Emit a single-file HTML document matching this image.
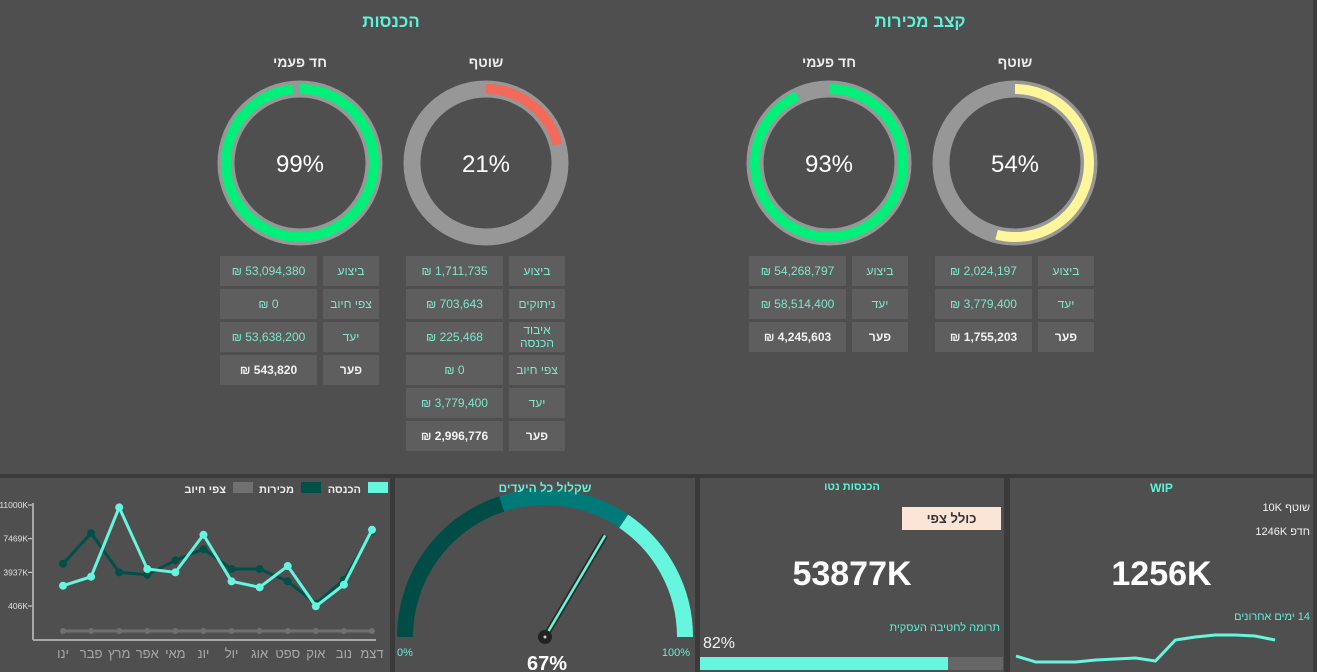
<!DOCTYPE html>
<html><head><meta charset="utf-8">
<style>
*{margin:0;padding:0;box-sizing:border-box}
body{width:1317px;height:672px;background:#4f4f4f;font-family:"Liberation Sans","DejaVu Sans",sans-serif;position:relative;overflow:hidden}
.abs{position:absolute}
.cell{position:absolute;background:#5e5e5e;height:30px;display:flex;align-items:center;justify-content:center;font-size:12px;color:#7fe6d2;text-align:center;line-height:13px;direction:rtl}
.cell.b{font-weight:bold;color:#f2f2f2}
.t{position:absolute;white-space:nowrap}
</style></head><body>
<div class="abs" style="left:1313px;top:0;width:4px;height:672px;background:#3c3c3c"></div>
<div class="abs" style="left:0;top:474px;width:1317px;height:4px;background:#3a3a3a"></div>
<div class="abs" style="left:390px;top:478px;width:5px;height:194px;background:#3a3a3a"></div>
<div class="abs" style="left:695px;top:478px;width:5px;height:194px;background:#3a3a3a"></div>
<div class="abs" style="left:1004px;top:478px;width:6px;height:194px;background:#3a3a3a"></div>

<svg class="abs" style="left:0;top:0" width="1317" height="672" id="main">
<text x="391" y="27" text-anchor="middle" fill="#5ff2da" font-size="17" font-weight="bold">הכנסות</text>
<text x="920" y="27" text-anchor="middle" fill="#5ff2da" font-size="17" font-weight="bold">קצב מכירות</text>
<text x="300" y="67" text-anchor="middle" fill="#ececec" font-size="14" font-weight="bold">חד פעמי</text>
<text x="486" y="67" text-anchor="middle" fill="#ececec" font-size="14" font-weight="bold">שוטף</text>
<text x="829" y="67" text-anchor="middle" fill="#ececec" font-size="14" font-weight="bold">חד פעמי</text>
<text x="1015" y="67" text-anchor="middle" fill="#ececec" font-size="14" font-weight="bold">שוטף</text>
<g id="donuts"></g>
<g id="linechart"></g>
<g id="gauge"></g>
<g id="spark"></g>
</svg>

<div id="tables"></div>

<div class="t" style="left:700px;width:304px;top:481px;text-align:center;color:#5ff2da;font-size:11px;font-weight:bold">הכנסות נטו</div>
<div class="abs" style="left:902px;top:507px;width:99px;height:23px;background:#fbe5d6;color:#333;font-size:13px;font-weight:bold;display:flex;align-items:center;justify-content:center">כולל צפי</div>
<div class="t" style="left:700px;width:304px;top:555px;text-align:center;color:#fff;font-size:34px;font-weight:bold">53877K</div>
<div class="t" style="right:317px;top:622px;color:#5ff2da;font-size:11px;direction:rtl">תרומה לחטיבה העסקית</div>
<div class="t" style="left:703px;top:635px;color:#f2f2f2;font-size:16px">82%</div>
<div class="abs" style="left:700px;top:657px;width:303px;height:13px;background:#666"></div>
<div class="abs" style="left:700px;top:657px;width:248px;height:13px;background:#66f5de"></div>

<div class="t" style="left:1010px;width:303px;top:481px;text-align:center;color:#5ff2da;font-size:12px;font-weight:bold">WIP</div>
<div class="t" style="right:7px;top:502px;color:#f2f2f2;font-size:11px;direction:rtl">שוטף 10K</div>
<div class="t" style="right:7px;top:526px;color:#f2f2f2;font-size:11px;direction:rtl">חדפ 1246K</div>
<div class="t" style="left:1010px;width:303px;top:555px;text-align:center;color:#fff;font-size:34px;font-weight:bold">1256K</div>
<div class="t" style="right:7px;top:611px;color:#5ff2da;font-size:11px;direction:rtl">14 ימים אחרונים</div>

<script>
const NS="http://www.w3.org/2000/svg";
function mk(tag,attrs,parent){const e=document.createElementNS(NS,tag);for(const k in attrs)e.setAttribute(k,attrs[k]);parent.appendChild(e);return e;}

// ---------- donuts ----------
const donutPercents=[99,21,93,54];
const donutLabels=["99%","21%","93%","54%"];
const donutColors=["#00f07a","#f26a5a","#00f07a","#fff59a"];
const donutCx=[300,486,829,1015];
const dg=document.getElementById('donuts');
function arcPath(cx,cy,r,a0,a1){
  const p=a=>[cx+r*Math.sin(a),cy-r*Math.cos(a)];
  const [x0,y0]=p(a0),[x1,y1]=p(a1);const large=(a1-a0)>Math.PI?1:0;
  return `M${x0} ${y0} A${r} ${r} 0 ${large} 1 ${x1} ${y1}`;
}
donutPercents.forEach((v,i)=>{
  const cx=donutCx[i],cy=163;
  const ring=mk('circle',{cx,cy,r:74,fill:'none',stroke:'#979797','stroke-width':17},dg);
  
  
  const a1=Math.min(v/100,0.985)*2*Math.PI;
  const arc=mk('path',{d:arcPath(cx,cy,74,0,a1),fill:'none',stroke:donutColors[i],'stroke-width':10},dg);
  
  
  const t=mk('text',{x:cx,y:cy+9,'text-anchor':'middle',fill:'#fff','font-size':24},dg);
  t.textContent=donutLabels[i];
  
  
});

// ---------- tables ----------
const tableValueX=[220,406,749,935];
const tableLabelX=[323,509,852,1038];
const tableLabels=[["ביצוע","צפי חיוב","יעד","פער"],["ביצוע","ניתוקים","איבוד<br>הכנסה","צפי חיוב","יעד","פער"],["ביצוע","יעד","פער"],["ביצוע","יעד","פער"]];
const tableValues=[["53,094,380 ₪","0 ₪","53,638,200 ₪","543,820 ₪"],["1,711,735 ₪","703,643 ₪","225,468 ₪","0 ₪","3,779,400 ₪","2,996,776 ₪"],["54,268,797 ₪","58,514,400 ₪","4,245,603 ₪"],["2,024,197 ₪","3,779,400 ₪","1,755,203 ₪"]];
const tb=document.getElementById('tables');
tableLabels.forEach((rows,i)=>{
  rows.forEach((lab,j)=>{
    const last=j===rows.length-1;
    const v=document.createElement('div');v.className='cell'+(last?' b':'');
    v.style.left=tableValueX[i]+'px';v.style.top=(256+j*33)+'px';v.style.width='97px';
    v.textContent=tableValues[i][j];
    
    
    tb.appendChild(v);
    const l=document.createElement('div');l.className='cell'+(last?' b':'');
    l.style.left=tableLabelX[i]+'px';l.style.top=(256+j*33)+'px';l.style.width='56px';
    l.innerHTML=lab;
    
    
    tb.appendChild(l);
  });
});

// ---------- line chart ----------
const months=["ינו","פבר","מרץ","אפר","מאי","יונ","יול","אוג","ספט","אוק","נוב","דצמ"];
const revenueK=[2533,3476,10748,4283,3937,7877,2994,2365,4597,375,2638,8401];
const salesK=[4838,8055,3937,3686,5195,6378,4283,4283,2994,647,3162,8233];
const forecastK=[0,0,0,0,0,0,0,0,0,0,0,0];
const yTicks=[406,3937,7469,11000];
const yTickLabels=["406K","3937K","7469K","11000K"];
const lc=document.getElementById('linechart');
const xS=i=>63+i*(372-63)/11;
const yS=v=>606-(v-406)*(606-505)/(11000-406);
const yF=v=>631-v*0.003;
mk('line',{x1:33,y1:503,x2:33,y2:640,stroke:'#a8a8a8','stroke-width':2},lc);
mk('line',{x1:33,y1:640,x2:376,y2:640,stroke:'#a8a8a8','stroke-width':2},lc);
yTicks.forEach((v,i)=>{
  const t=mk('text',{x:28,y:yS(v)+3,'text-anchor':'end',fill:'#e0e0e0','font-size':8.5},lc);
  t.textContent=yTickLabels[i];
  
  
  mk('line',{x1:28,y1:yS(v),x2:32,y2:yS(v),stroke:'#e0e0e0','stroke-width':1},lc);
});
months.forEach((m,i)=>{
  const t=mk('text',{x:xS(i),y:658,'text-anchor':'middle',fill:'#a8a8a8','font-size':13},lc);
  t.textContent=m;
  
  
});
function series(vals,yfn,color,w,r,name){
  const pts=vals.map((v,i)=>xS(i)+','+yfn(v)).join(' ');
  const pl=mk('polyline',{points:pts,fill:'none',stroke:color,'stroke-width':w},lc);
  
  
  vals.forEach((v,i)=>{
    const c=mk('circle',{cx:xS(i),cy:yfn(v),r:r,fill:color},lc);
    
    
  });
}
mk('line',{x1:xS(0),y1:yF(0),x2:xS(11)+2,y2:yF(0),stroke:'#6e6e6e','stroke-width':3},lc);
series(forecastK,yF,'#707070',3,3,'forecast');
series(salesK,yS,'#00504a',3,4,'sales');
series(revenueK,yS,'#66f5de',3,4,'revenue');
const lgS=[[368,'#66f5de','legend-revenue-swatch'],[301,'#00504a','legend-sales-swatch'],[233,'#707070','legend-forecast-swatch']];
lgS.forEach(s=>{const r=mk('rect',{x:s[0],y:482,width:20,height:11,fill:s[1]},lc);
  
  });
const lgT=[[361,'הכנסה'],[294,'מכירות'],[226,'צפי חיוב']];
lgT.forEach(s=>{const t=mk('text',{x:s[0],y:493,'text-anchor':'end',fill:'#eeeeee','font-size':11,'font-weight':'bold'},lc);t.textContent=s[1];
  
  });

// ---------- gauge ----------
const gaugeValue=67;
const gaugeBands=[0,40,69,100];
const gaugeColors=["#004d47","#007a78","#66f5de"];
const gg=document.getElementById('gauge');
const gcx=545,gcy=637,gr=140;
const gp=(pct,r)=>{const a=Math.PI*(1-pct/100);return [gcx+r*Math.cos(a),gcy-r*Math.sin(a)];};
for(let i=0;i<3;i++){
  const [x0,y0]=gp(gaugeBands[i],gr),[x1,y1]=gp(gaugeBands[i+1],gr);
  const p=mk('path',{d:`M${x0} ${y0} A${gr} ${gr} 0 0 1 ${x1} ${y1}`,fill:'none',stroke:gaugeColors[i],'stroke-width':16},gg);
  
  
}
const [nx,ny]=gp(gaugeValue,118);
mk('line',{x1:gcx,y1:gcy,x2:nx,y2:ny,stroke:'#2a2a2a','stroke-width':6},gg);
const nd=mk('line',{x1:gcx,y1:gcy,x2:nx,y2:ny,stroke:'#66f5de','stroke-width':2.5},gg);


mk('circle',{cx:gcx,cy:gcy,r:7,fill:'#222'},gg);
mk('circle',{cx:gcx,cy:gcy,r:1.5,fill:'#ccc'},gg);
const gtx=[[545,492,'middle',12,'#5ff2da','bold','שקלול כל היעדים','gauge-title'],[397,656,'start',11,'#5ff2da','normal','0%','gauge-min'],[690,656,'end',11,'#5ff2da','normal','100%','gauge-max'],[547,670,'middle',20,'#fff','bold',gaugeValue+'%','gauge-value']];
gtx.forEach(s=>{const t=mk('text',{x:s[0],y:s[1],'text-anchor':s[2],'font-size':s[3],fill:s[4],'font-weight':s[5]},gg);t.textContent=s[6];
  
  });

// ---------- WIP sparkline ----------
const wipDays=[1,2,3,4,5,6,7,8,9,10,11,12,13,14];
const wipValues=[16,10,10,10,12,13,14,11,32,35,37,37,36,32];
const sp=document.getElementById('spark');
const sx=i=>1016+i*(1275-1016)/13;
const sy=v=>672-v;
const spl=mk('polyline',{points:wipValues.map((v,i)=>sx(i)+','+sy(v)).join(' '),fill:'none',stroke:'#66f5de','stroke-width':3},sp);


</script>
</body></html>
